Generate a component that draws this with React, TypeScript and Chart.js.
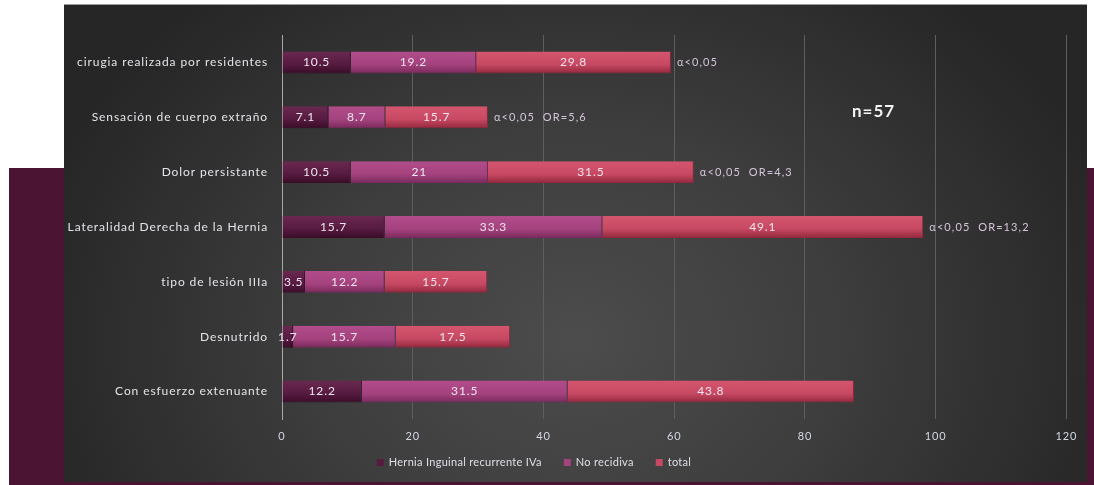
import React, { useEffect, useRef } from "react";
import { Chart, registerables } from "chart.js";

Chart.register(...registerables);

const categories = [
  "cirugia realizada por residentes",
  "Sensación de cuerpo extraño",
  "Dolor persistante",
  "Lateralidad Derecha de la Hernia",
  "tipo de lesión IIIa",
  "Desnutrido",
  "Con esfuerzo extenuante",
];
const seriesNames = ["Hernia Inguinal recurrente IVa", "No recidiva", "total"];
const herniaIVa = [10.5, 7.1, 10.5, 15.7, 3.5, 1.7, 12.2];
const noRecidiva = [19.2, 8.7, 21, 33.3, 12.2, 15.7, 31.5];
const total = [29.8, 15.7, 31.5, 49.1, 15.7, 17.5, 43.8];
const annotations = [
  "α<0,05",
  "α<0,05  OR=5,6",
  "α<0,05  OR=4,3",
  "α<0,05  OR=13,2",
  "",
  "",
  "",
];
const xTicks = [0, 20, 40, 60, 80, 100, 120];
const sampleLabel = "n=57";

const FONT = "Lato, 'Open Sans', sans-serif";
const palettes = [
  { light: "#6a2850", base: "#561a40", dark: "#3a0c28" },
  { light: "#b24c8a", base: "#a4427e", dark: "#7a2a5c" },
  { light: "#d4566e", base: "#c64862", dark: "#92283e" },
];

function gradientFill(idx: number) {
  const p = palettes[idx];
  return (ctx: any) => {
    const chart = ctx.chart;
    const y = chart.scales && chart.scales.y;
    if (!y || ctx.type !== "data" || !chart.chartArea) return p.base;
    const c = y.getPixelForValue(ctx.dataIndex);
    const g = chart.ctx.createLinearGradient(0, c - 11, 0, c + 11);
    g.addColorStop(0, p.light);
    g.addColorStop(0.6, p.base);
    g.addColorStop(1, p.dark);
    return g;
  };
}

const spacingPlugin = {
  id: "spacing",
  beforeDraw(chart: any) {
    (chart.ctx as any).letterSpacing = "0.9px";
  },
};

const overlayPlugin = {
  id: "overlay",
  afterDatasetsDraw(chart: any) {
    const ctx = chart.ctx as any;
    ctx.save();
    ctx.letterSpacing = "0.9px";
    ctx.font = `12px ${FONT}`;
    ctx.textAlign = "center";
    ctx.textBaseline = "middle";
    ctx.fillStyle = "#ece6ee";
    chart.data.datasets.forEach((ds: any, di: number) => {
      const meta = chart.getDatasetMeta(di);
      meta.data.forEach((bar: any, i: number) => {
        const v = ds.data[i];
        const cx = (bar.x + bar.base) / 2;
        ctx.fillText(String(v), cx, bar.y);
      });
    });
    // annotations after the last stacked bar
    const lastMeta = chart.getDatasetMeta(chart.data.datasets.length - 1);
    ctx.font = `11px ${FONT}`;
    ctx.letterSpacing = "1.1px";
    ctx.textAlign = "left";
    ctx.fillStyle = "#d6c4dc";
    lastMeta.data.forEach((bar: any, i: number) => {
      if (annotations[i]) ctx.fillText(annotations[i], bar.x + 6, bar.y);
    });
    // n=57
    ctx.font = `bold 17px ${FONT}`;
    ctx.letterSpacing = "1px";
    ctx.fillStyle = "#f4f4f4";
    ctx.textAlign = "center";
    const xs = chart.scales.x;
    ctx.fillText(sampleLabel, xs.getPixelForValue(90.5), chart.scales.y.getPixelForValue(1) - 6);
    // legend
    ctx.font = `11px ${FONT}`;
    ctx.letterSpacing = "0.3px";
    ctx.textBaseline = "middle";
    ctx.textAlign = "left";
    const gap = 22;
    const box = 7;
    const widths = seriesNames.map((n) => box + 5 + ctx.measureText(n).width);
    const totalW = widths.reduce((a: number, b: number) => a + b, 0) + gap * (seriesNames.length - 1);
    let x = 534 - 64 - totalW / 2;
    const ly = 457;
    seriesNames.forEach((n, i) => {
      ctx.fillStyle = palettes[i].base;
      ctx.fillRect(x, ly - 3, box, box);
      ctx.fillStyle = "#e2dde6";
      ctx.fillText(n, x + box + 5, ly);
      x += widths[i] + gap;
    });
    ctx.restore();
    ctx.letterSpacing = "0px";
  },
};

export default function App() {
  const ref = useRef<HTMLCanvasElement | null>(null);
  useEffect(() => {
    if (!ref.current) return;
    const chart = new Chart(ref.current, {
      type: "bar",
      data: {
        labels: categories,
        datasets: [herniaIVa, noRecidiva, total].map((d, i) => ({
          label: seriesNames[i],
          data: d,
          backgroundColor: gradientFill(i),
          borderColor: palettes[i].dark,
          borderWidth: { right: 1, bottom: 1, top: 0, left: 0 },
          borderSkipped: false,
          barPercentage: 0.4,
          categoryPercentage: 1,
        })),
      },
      options: {
        indexAxis: "y",
        responsive: false,
        maintainAspectRatio: false,
        animation: false,
        layout: { padding: { top: 30, right: 18, bottom: 33, left: 0 } },
        plugins: {
          legend: { display: false },
          tooltip: { enabled: false },
        },
        scales: {
          x: {
            stacked: true,
            min: 0,
            max: 120,
            afterBuildTicks: (s: any) => {
              s.ticks = xTicks.map((v) => ({ value: v }));
            },
            afterFit: (s: any) => {
              s.height = 30;
            },
            ticks: {
              color: "#d4d8e4",
              font: { family: FONT, size: 11 },
              padding: 11,
            },
            grid: {
              color: (c: any) => (c.index === 0 ? "rgba(0,0,0,0)" : "#5e5e5e"),
              drawTicks: false,
              lineWidth: 1,
            },
            border: { display: false },
          },
          y: {
            stacked: true,
            afterFit: (s: any) => {
              s.width = 218;
            },
            ticks: {
              color: "#e4e4ea",
              font: { family: FONT, size: 12 },
              padding: 14,
            },
            grid: { display: false, drawTicks: false },
            border: { display: true, color: "#a8a8a8", width: 1 },
          },
        },
      },
      plugins: [spacingPlugin, overlayPlugin],
    });
    return () => chart.destroy();
  }, []);

  return (
    <div
      style={{
        position: "absolute",
        left: 0,
        top: 0,
        width: 1094,
        height: 485,
        background: "#ffffff",
        overflow: "hidden",
      }}
    >
      <div
        style={{
          position: "absolute",
          left: 9,
          top: 168,
          width: 1085,
          height: 317,
          background: "#4a1432",
        }}
      />
      <div
        style={{
          position: "absolute",
          left: 64,
          top: 4,
          width: 1023,
          height: 478,
          background:
            "radial-gradient(ellipse 55% 95% at 50% 70%, #4c4c4c 0%, #3e3e3e 45%, #262626 100%)",
          borderTop: "1px solid #9a9a9a",
          boxSizing: "border-box",
        }}
      >
        <canvas ref={ref} width={1023} height={477} style={{ display: "block" }} />
      </div>
    </div>
  );
}
